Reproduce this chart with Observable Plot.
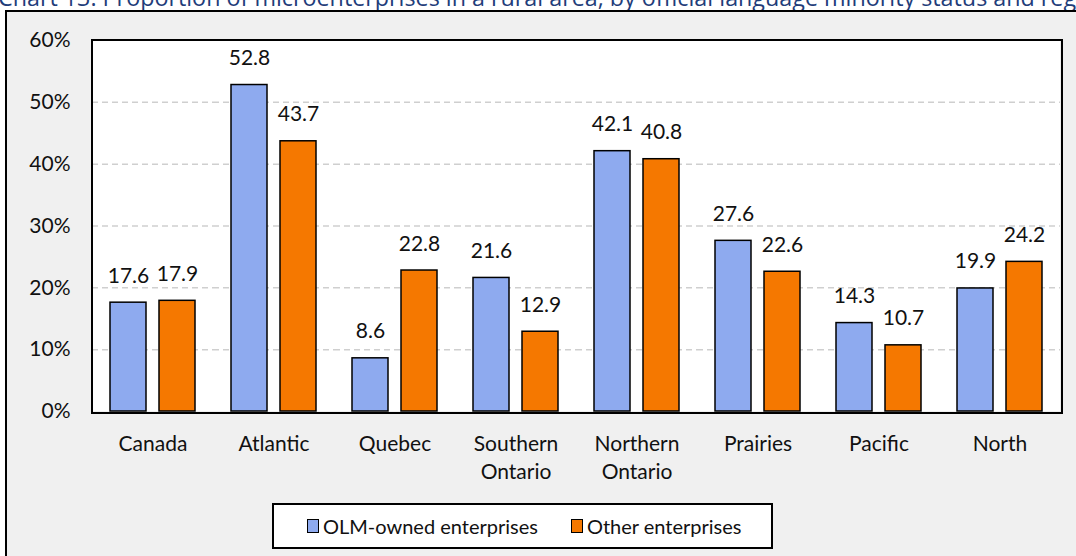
<!DOCTYPE html>
<html>
<head>
<meta charset="utf-8">
<script src="https://cdn.jsdelivr.net/npm/d3@7"></script>
<script src="https://cdn.jsdelivr.net/npm/@observablehq/plot@0.6"></script>
<style>
  html, body { margin: 0; padding: 0; background: #ffffff; width: 1076px; height: 556px; overflow: hidden; font-family: Lato, "Open Sans", sans-serif; }
  #title { position: absolute; left: -2px; top: -19px; font-size: 23.3px; color: #1f3d7a; white-space: nowrap; font-family: "Open Sans", Lato, sans-serif; }
  #panel { position: absolute; left: 5px; top: 10px; width: 1200px; height: 700px; border: 2px solid #000; background: #f0f0f0; }
  #plotbg { position: absolute; left: 92px; top: 40px; width: 968px; height: 371px; background: #fff; }
  #plotframe { position: absolute; left: 91px; top: 39px; width: 968px; height: 371px; border: 2px solid #000; pointer-events: none; }
  #chart { position: absolute; left: 0; top: 0; }
  #legend { position: absolute; left: 272px; top: 503px; width: 497px; height: 42px; border: 2px solid #000; background: #fff; display: flex; align-items: center; font-size: 20px; color: #111; }
  .sw { display: inline-block; width: 10px; height: 12px; border: 1.5px solid #000; margin-right: 4px; }
  .item { display: flex; align-items: center; }
</style>
</head>
<body>
<div id="title">Chart 13: Proportion of microenterprises in a rural area, by official language minority status and region</div>
<div id="panel"></div>
<div id="plotbg"></div>
<div id="chart"></div>
<div id="plotframe"></div>
<div id="legend"></div>
<script>
const regions = ["Canada", "Atlantic", "Quebec", "Southern\nOntario", "Northern\nOntario", "Prairies", "Pacific", "North"];
const series = ["OLM-owned enterprises", "Other enterprises"];
const olmValues = [17.6, 52.8, 8.6, 21.6, 42.1, 27.6, 14.3, 19.9];
const otherValues = [17.9, 43.7, 22.8, 12.9, 40.8, 22.6, 10.7, 24.2];
const colors = ["#8eaaef", "#f57800"];
const yTicks = [0, 10, 20, 30, 40, 50, 60];

const data = [];
regions.forEach((r, i) => {
  data.push({region: r, series: series[0], value: olmValues[i]});
  data.push({region: r, series: series[1], value: otherValues[i]});
});

const chart = Plot.plot({
  width: 1076,
  height: 500,
  marginLeft: 92,
  marginRight: 16,
  marginTop: 40,
  marginBottom: 89,
  style: {background: "transparent", fontFamily: "Lato, 'Open Sans', sans-serif", fontSize: "21px", color: "#111"},
  fx: {domain: regions, padding: 0, label: null, axis: null},
  x: {domain: series, paddingInner: 0.265, paddingOuter: 0.367, axis: null},
  y: {domain: [0, 60], label: null},
  color: {domain: series, range: colors},
  marks: [
    Plot.gridY(yTicks.filter(d => d > 0 && d < 60), {stroke: "#cfcfcf", strokeOpacity: 1, strokeWidth: 1.5, strokeDasharray: "6,4"}),
    Plot.barY(data, {fx: "region", x: "series", y: "value", fill: "series", stroke: "#000", strokeWidth: 1.5}),
    Plot.text(data, {fx: "region", x: "series", y: "value", text: d => d.value.toFixed(1), lineAnchor: "bottom", dy: -20, fontSize: 21, fill: "#111"}),
    Plot.axisY({ticks: yTicks, tickFormat: d => d + "%", tickSize: 0, tickPadding: 22, fontSize: 21, label: null}),
    Plot.axisFx({anchor: "bottom", tickSize: 0, tickPadding: 19, fontSize: 21, lineHeight: 1.35, label: null})
  ]
});
document.getElementById("chart").appendChild(chart);

const legend = document.getElementById("legend");
legend.innerHTML = series.map((s, i) =>
  `<span class="item" style="margin-left:${i === 0 ? 33 : 33}px"><span class="sw" style="background:${colors[i]}"></span>${s}</span>`
).join("");
</script>
</body>
</html>
